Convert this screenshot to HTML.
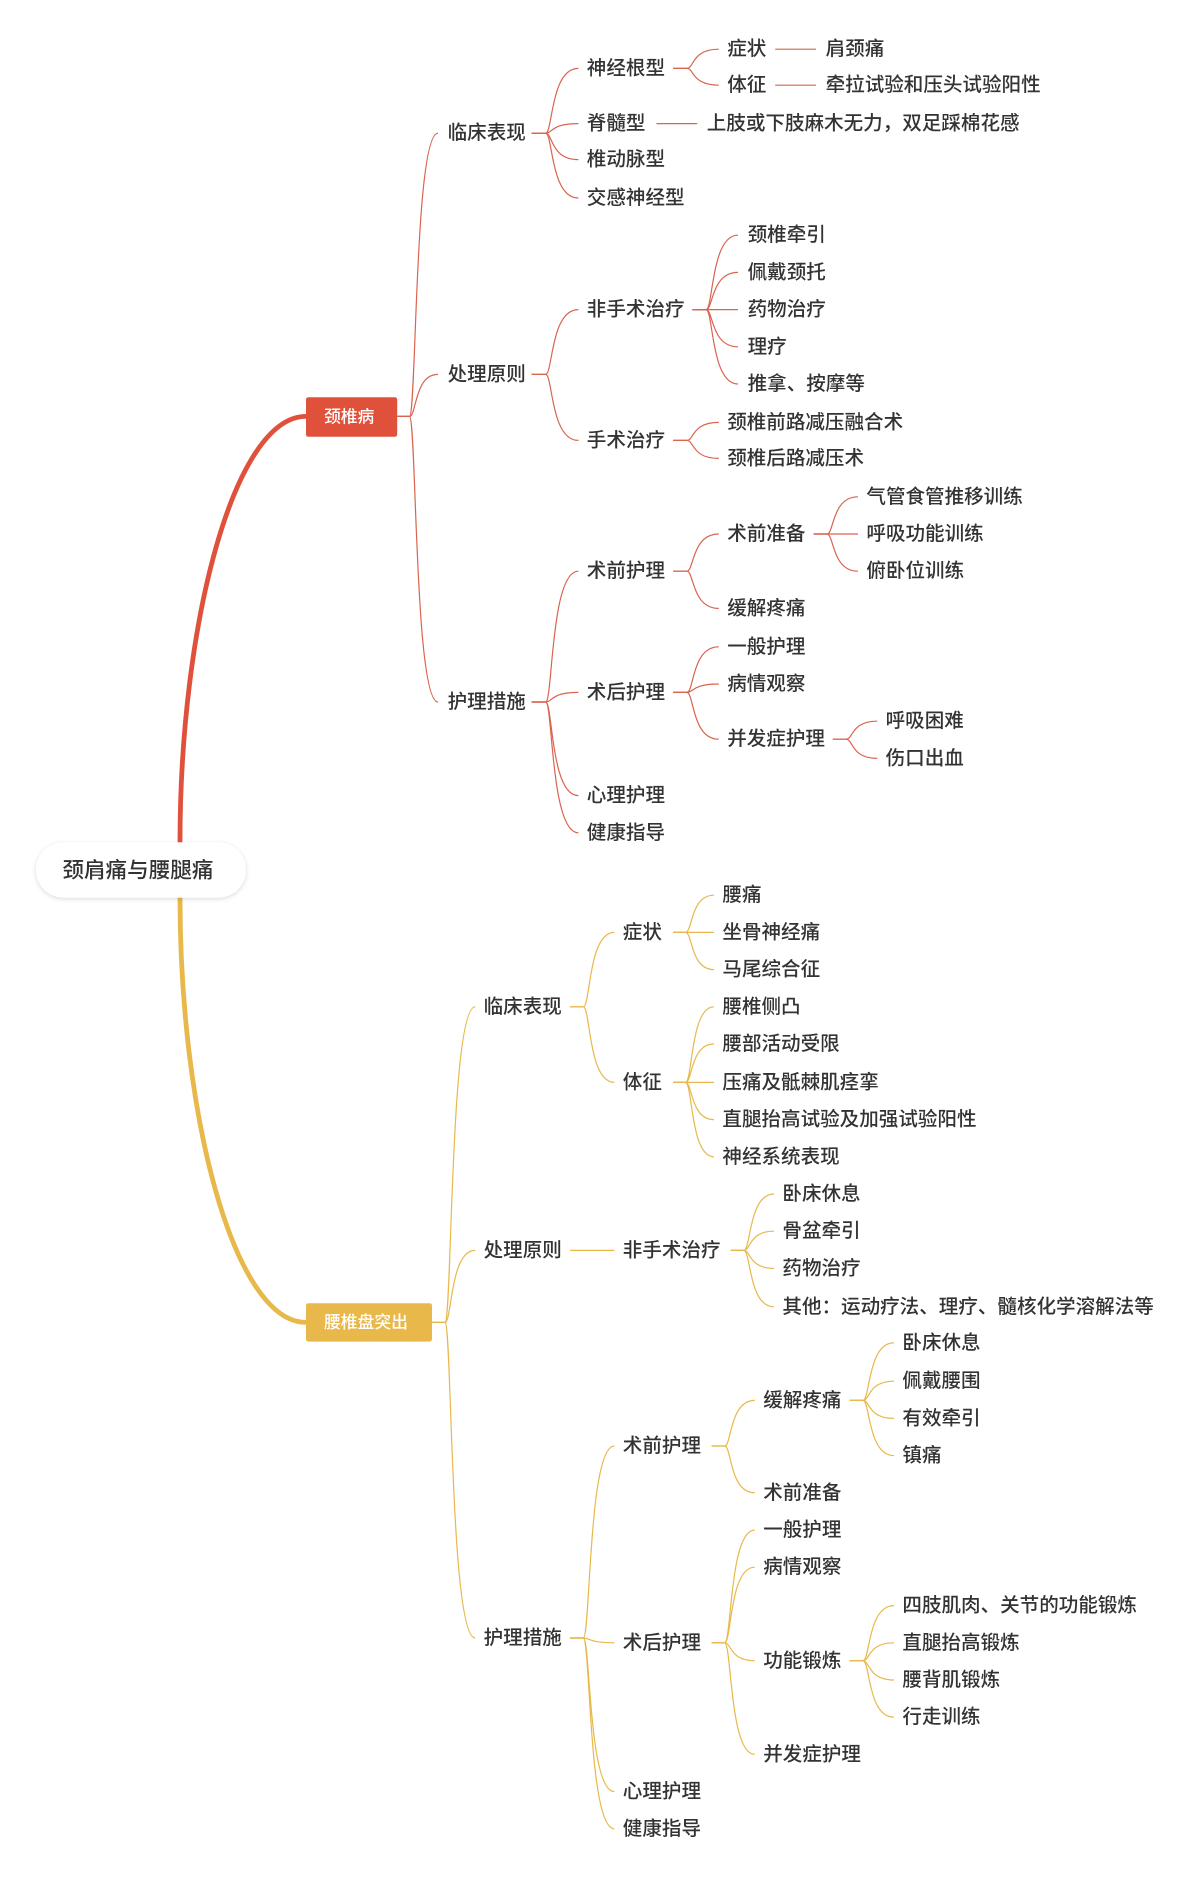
<!DOCTYPE html>
<html><head><meta charset="utf-8"><style>
html,body{margin:0;padding:0;background:#fff;width:1200px;height:1877px;overflow:hidden}
svg{display:block}
text{font-family:"Liberation Sans","Noto Sans CJK SC",sans-serif;font-size:16.3px;font-weight:500;fill:#333;dominant-baseline:central}
</style></head><body>
<svg id="s" width="1200" height="1877" viewBox="0 0 1000 1564.17" xmlns="http://www.w3.org/2000/svg">
<defs><filter id="sh" x="-20%" y="-40%" width="140%" height="180%"><feDropShadow dx="0" dy="1" stdDeviation="2" flood-color="#000" flood-opacity="0.15"/></filter></defs>
<g id="lines" fill="none"></g>
<path d="M150,702 C150,520 195,347 255,347" stroke="#e0513c" stroke-width="4" fill="none"/>
<path d="M150,748 C150,930 195,1102 255,1102" stroke="#e8b84a" stroke-width="4" fill="none"/>
<rect x="30" y="702" width="175" height="46" rx="23" fill="#fff" filter="url(#sh)"/>
<text x="52" y="725" style="font-size:18px">颈肩痛与腰腿痛</text>
<rect x="255" y="331" width="76" height="33" rx="2" fill="#e0513c"/>
<text x="270" y="347.5" style="font-size:14px;fill:#fff">颈椎病</text>
<rect x="255" y="1086" width="105" height="32" rx="2" fill="#e8b84a"/>
<text x="270" y="1102" style="font-size:14px;fill:#fff">腰椎盘突出</text>

<text x="373" y="111">临床表现</text>
<text x="489" y="57">神经根型</text>
<text x="606" y="41">症状</text><text x="688" y="41">肩颈痛</text>
<text x="606" y="71">体征</text><text x="688" y="71">牵拉试验和压头试验阳性</text>
<text x="489" y="103">脊髓型</text><text x="589" y="103">上肢或下肢麻木无力，双足踩棉花感</text>
<text x="489" y="133">椎动脉型</text>
<text x="489" y="165">交感神经型</text>
<text x="373" y="312">处理原则</text>
<text x="489" y="258">非手术治疗</text>
<text x="623" y="196">颈椎牵引</text><text x="623" y="227">佩戴颈托</text><text x="623" y="258">药物治疗</text><text x="623" y="289">理疗</text><text x="623" y="320">推拿、按摩等</text>
<text x="489" y="367">手术治疗</text>
<text x="606" y="352">颈椎前路减压融合术</text><text x="606" y="382">颈椎后路减压术</text>
<text x="373" y="585">护理措施</text>
<text x="489" y="476">术前护理</text>
<text x="606" y="445">术前准备</text>
<text x="722" y="414">气管食管推移训练</text><text x="722" y="445">呼吸功能训练</text><text x="722" y="476">俯卧位训练</text>
<text x="606" y="507">缓解疼痛</text>
<text x="489" y="577">术后护理</text>
<text x="606" y="539">一般护理</text><text x="606" y="570">病情观察</text><text x="606" y="616">并发症护理</text>
<text x="738" y="601">呼吸困难</text><text x="738" y="632">伤口出血</text>
<text x="489" y="663">心理护理</text>
<text x="489" y="694">健康指导</text>

<text x="403" y="839">临床表现</text>
<text x="519" y="777">症状</text>
<text x="602" y="746">腰痛</text><text x="602" y="777">坐骨神经痛</text><text x="602" y="808">马尾综合征</text>
<text x="519" y="902">体征</text>
<text x="602" y="839">腰椎侧凸</text><text x="602" y="870">腰部活动受限</text><text x="602" y="902">压痛及骶棘肌痉挛</text><text x="602" y="933">直腿抬高试验及加强试验阳性</text><text x="602" y="964">神经系统表现</text>
<text x="403" y="1042">处理原则</text>
<text x="519" y="1042">非手术治疗</text>
<text x="652" y="995">卧床休息</text><text x="652" y="1026">骨盆牵引</text><text x="652" y="1057">药物治疗</text><text x="652" y="1089">其他：运动疗法、理疗、髓核化学溶解法等</text>
<text x="403" y="1365">护理措施</text>
<text x="519" y="1205">术前护理</text>
<text x="636" y="1167">缓解疼痛</text>
<text x="752" y="1119">卧床休息</text><text x="752" y="1151">佩戴腰围</text><text x="752" y="1182">有效牵引</text><text x="752" y="1213">镇痛</text>
<text x="636" y="1244">术前准备</text>
<text x="519" y="1369">术后护理</text>
<text x="636" y="1275">一般护理</text><text x="636" y="1306">病情观察</text>
<text x="636" y="1384">功能锻炼</text>
<text x="752" y="1338">四肢肌肉、关节的功能锻炼</text><text x="752" y="1369">直腿抬高锻炼</text><text x="752" y="1400">腰背肌锻炼</text><text x="752" y="1431">行走训练</text>
<text x="636" y="1462">并发症护理</text>
<text x="519" y="1493">心理护理</text>
<text x="519" y="1524">健康指导</text>
</svg>
<script>
var R="#d9644f",Y="#e8b84a";
var E=[
[331,347,365,[111,312,585],R],
[443,111,482,[57,103,133,165],R],
[561,57,599,[41,71],R],
[443,312,482,[258,367],R],
[577,258,615,[196,227,258,289,320],R],
[561,367,599,[352,382],R],
[443,585,482,[476,577,663,694],R],
[561,476,599,[445,507],R],
[678,445,715,[414,445,476],R],
[561,577,599,[539,570,616],R],
[694,616,731,[601,632],R],
[360,1102,396,[839,1042,1365],Y],
[475,839,512,[777,902],Y],
[561,777,595,[746,777,808],Y],
[561,902,595,[839,870,902,933,964],Y],
[609,1042,645,[995,1026,1057,1089],Y],
[475,1365,512,[1205,1369,1493,1524],Y],
[593,1205,629,[1167,1244],Y],
[708,1167,745,[1119,1151,1182,1213],Y],
[593,1369,629,[1275,1306,1384,1462],Y],
[708,1384,745,[1338,1369,1400,1431],Y]
];
var S=[[646,41,680,R],[646,71,680,R],[547,103,581,R],[475,1042,512,Y]];
var g=document.getElementById("lines"),h="";
E.forEach(function(e){var px=e[0],py=e[1],cx=e[2],c=e[4];var m=px+(cx-px)*0.3;
e[3].forEach(function(cy){h+='<path d="M'+px+','+py+' L'+(m)+','+py+' C'+(m+6)+','+py+' '+(m+4)+','+cy+' '+cx+','+cy+'" stroke="'+c+'" stroke-width="1"/>';});});
S.forEach(function(s){h+='<path d="M'+s[0]+','+s[1]+' L'+s[2]+','+s[1]+'" stroke="'+s[3]+'" stroke-width="1"/>';});
g.innerHTML=h;
</script>
</body></html>
